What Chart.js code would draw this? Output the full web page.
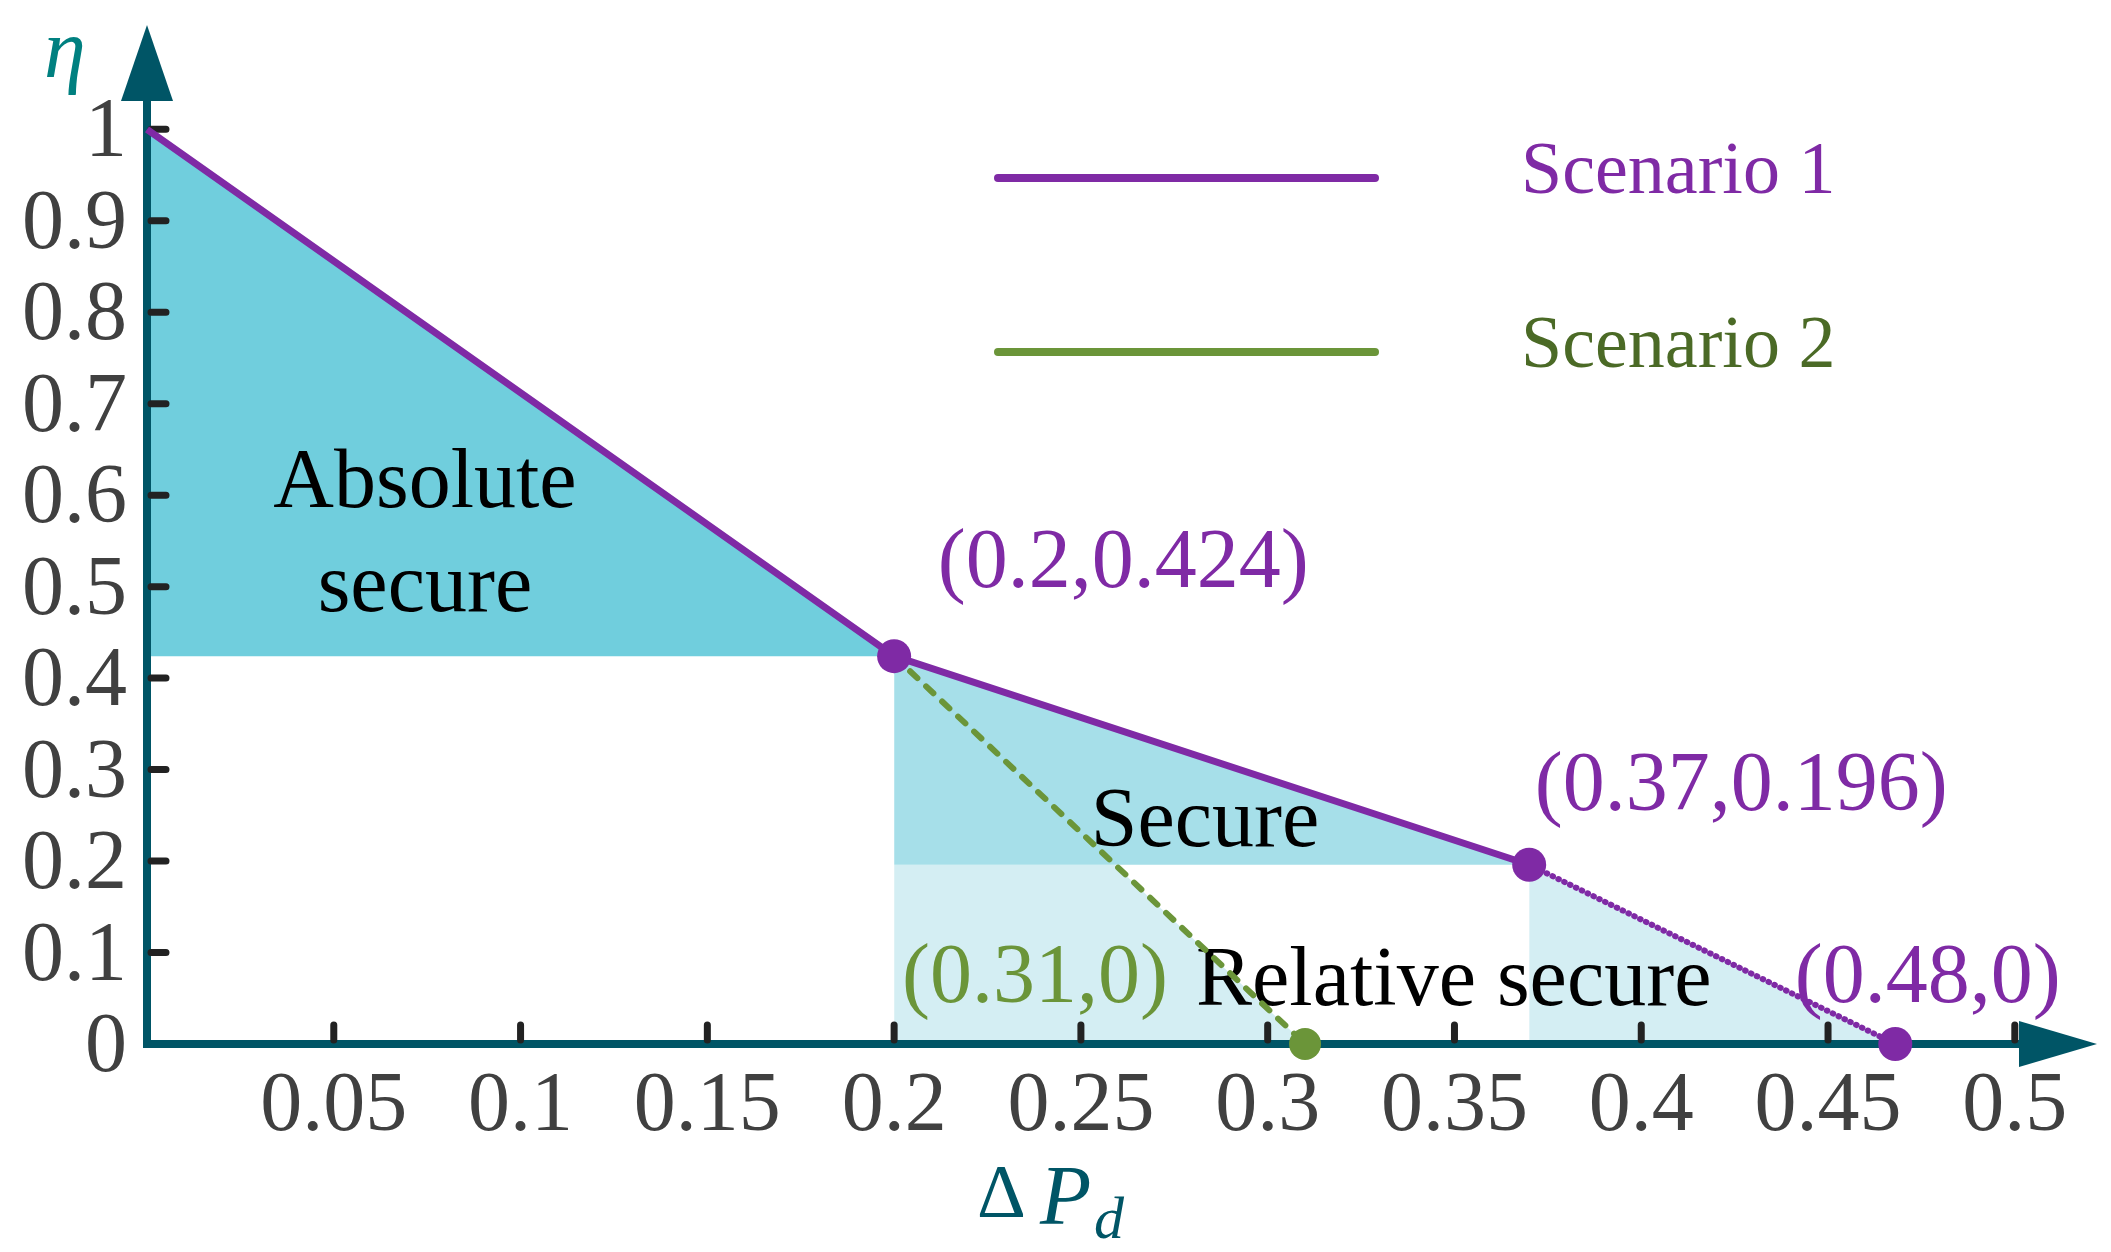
<!DOCTYPE html>
<html>
<head>
<meta charset="utf-8">
<script src="https://cdn.jsdelivr.net/npm/chart.js@4.4.1/dist/chart.umd.min.js"></script>
<style>
  html, body { margin: 0; padding: 0; background: #ffffff; }
  #wrap { width: 2111px; height: 1252px; }
</style>
</head>
<body>
<div id="wrap"><canvas id="chartEta" width="2111" height="1252"></canvas></div>
<script>
// =============================================
// η vs ΔPd — security zones, scenario 1 / 2
// =============================================

// ---- ticks ----
var xTicks = [0.05, 0.1, 0.15, 0.2, 0.25, 0.3, 0.35, 0.4, 0.45, 0.5];
var xTickLabels = ['0.05', '0.1', '0.15', '0.2', '0.25', '0.3', '0.35', '0.4', '0.45', '0.5'];
var yTicks = [0, 0.1, 0.2, 0.3, 0.4, 0.5, 0.6, 0.7, 0.8, 0.9, 1];
var yTickLabels = ['0', '0.1', '0.2', '0.3', '0.4', '0.5', '0.6', '0.7', '0.8', '0.9', '1'];

// ---- scenario 1 ----
var s1SolidX = [0, 0.2, 0.37];
var s1SolidY = [1, 0.424, 0.196];
var s1DotX = [0.37, 0.468];
var s1DotY = [0.196, 0];
var s1KeyX = [0.2, 0.37, 0.468];
var s1KeyY = [0.424, 0.196, 0];

// ---- scenario 2 ----
var s2X = [0.2, 0.31];
var s2Y = [0.424, 0];
var s2KeyX = [0.31];
var s2KeyY = [0];

// ---- zones ----
var absX = [0, 0.2];
var absY = [1, 0.424];
var absFloor = 0.424;
var secX = [0.2, 0.37];
var secY = [0.424, 0.196];
var secFloor = 0.196;
var relAX = [0.2, 0.259, 0.31];
var relAY = [0.196, 0.196, 0];
var relBX = [0.37, 0.468];
var relBY = [0.196, 0];

// ---- colours ----
var PURPLE = '#7f2aa5';
var GREEN = '#6b9539';
var GREEN_TXT = '#4b6a26';
var AXIS = '#005566';
var SERIF = "'Liberation Serif', serif";

function pts(xs, ys) {
  return xs.map(function(x, i) { return { x: x, y: ys[i] }; });
}

function zona(xs, ys, floor, color) {
  return {
    data: pts(xs, ys),
    showLine: true,
    borderWidth: 0,
    pointRadius: 0,
    backgroundColor: color,
    fill: { value: floor },
    clip: false
  };
}

// sin relleno extra alrededor de los ejes
function sinPadding(s) {
  s.paddingTop = 0;
  s.paddingBottom = 0;
  s.paddingLeft = 0;
  s.paddingRight = 0;
}

// ——————————————————————————————————————————
// Plugin: ejes con flechas, ticks y textos
// ——————————————————————————————————————————
var ejesPlugin = {
  id: 'ejes',
  beforeDatasetsDraw: function(chart) {
    var ctx = chart.ctx;
    var ca = chart.chartArea;
    var xs = chart.scales.x, ys = chart.scales.y;
    var ox = xs.getPixelForValue(0), oy = ys.getPixelForValue(0);

    ctx.save();
    // lineas de ejes
    ctx.strokeStyle = AXIS;
    ctx.lineWidth = 8;
    ctx.lineCap = 'butt';
    ctx.beginPath();
    ctx.moveTo(ox, oy + 4);
    ctx.lineTo(ox, ca.top + 74);
    ctx.moveTo(ox - 4, oy);
    ctx.lineTo(ca.right - 76, oy);
    ctx.stroke();

    // flechas
    ctx.fillStyle = AXIS;
    ctx.beginPath();
    ctx.moveTo(ox, ca.top);
    ctx.lineTo(ox - 26, ca.top + 76);
    ctx.lineTo(ox + 26, ca.top + 76);
    ctx.closePath();
    ctx.fill();
    ctx.beginPath();
    ctx.moveTo(ca.right, oy);
    ctx.lineTo(ca.right - 78, oy - 23);
    ctx.lineTo(ca.right - 78, oy + 23);
    ctx.closePath();
    ctx.fill();

    // ticks hacia dentro
    ctx.strokeStyle = '#222222';
    ctx.lineWidth = 7;
    ctx.lineCap = 'round';
    ctx.beginPath();
    xTicks.forEach(function(v) {
      var px = xs.getPixelForValue(v);
      ctx.moveTo(px, oy - 4);
      ctx.lineTo(px, oy - 19);
    });
    yTicks.forEach(function(v) {
      if (v === 0) return;
      var py = ys.getPixelForValue(v);
      ctx.moveTo(ox + 4, py);
      ctx.lineTo(ox + 19, py);
    });
    ctx.stroke();

    // textos de zonas y coordenadas
    var notas = chart.options.plugins.ejes.notas;
    ctx.textBaseline = 'middle';
    notas.forEach(function(n) {
      ctx.font = n.size + 'px ' + SERIF;
      ctx.fillStyle = n.color;
      ctx.textAlign = n.align;
      ctx.fillText(n.text, xs.getPixelForValue(n.x), ys.getPixelForValue(n.y));
    });

    // titulos de ejes
    ctx.textAlign = 'left';
    ctx.textBaseline = 'alphabetic';
    ctx.fillStyle = '#008080';
    ctx.font = 'italic 84px ' + SERIF;
    ctx.fillText('η', 44, 77);

    ctx.fillStyle = AXIS;
    ctx.font = '76px ' + SERIF;
    ctx.fillText('Δ', 977, 1217);
    ctx.font = 'italic 84px ' + SERIF;
    ctx.fillText('P', 1040, 1224);
    ctx.font = 'italic 60px ' + SERIF;
    ctx.fillText('d', 1094, 1238);
    ctx.restore();
  },
  afterDraw: function(chart) {
    // leyenda
    var ctx = chart.ctx;
    var items = chart.options.plugins.ejes.leyenda;
    ctx.save();
    items.forEach(function(it) {
      ctx.strokeStyle = it.line;
      ctx.lineWidth = 8;
      ctx.lineCap = 'round';
      ctx.beginPath();
      ctx.moveTo(998, it.y);
      ctx.lineTo(1375, it.y);
      ctx.stroke();
      ctx.font = '74px ' + SERIF;
      ctx.fillStyle = it.text;
      ctx.textAlign = 'left';
      ctx.textBaseline = 'middle';
      ctx.fillText(it.label, 1521, it.y - 4);
    });
    ctx.restore();
  }
};

var ctx = document.getElementById('chartEta');

new Chart(ctx, {
  type: 'scatter',
  data: {
    datasets: [
      // marcadores (arriba de todo)
      {
        label: 'Scenario 1',
        data: pts(s1KeyX, s1KeyY),
        pointRadius: 17,
        pointBackgroundColor: PURPLE,
        pointBorderWidth: 0,
        showLine: false,
        clip: false
      },
      {
        label: 'Scenario 2',
        data: pts(s2KeyX, s2KeyY),
        pointRadius: 16,
        pointBackgroundColor: GREEN,
        pointBorderWidth: 0,
        showLine: false,
        clip: false
      },
      // lineas
      {
        data: pts(s1SolidX, s1SolidY),
        showLine: true,
        borderColor: PURPLE,
        borderWidth: 7,
        pointRadius: 0,
        fill: false,
        clip: false
      },
      {
        data: pts(s1DotX, s1DotY),
        showLine: true,
        borderColor: PURPLE,
        borderWidth: 6,
        borderDash: [0.5, 6],
        borderCapStyle: 'round',
        pointRadius: 0,
        fill: false,
        clip: false
      },
      {
        data: pts(s2X, s2Y),
        showLine: true,
        borderColor: GREEN,
        borderWidth: 6,
        borderDash: [10, 12],
        borderCapStyle: 'round',
        pointRadius: 0,
        fill: false,
        clip: false
      },
      // zonas
      zona(absX, absY, absFloor, '#70cedd'),
      zona(secX, secY, secFloor, '#a6dfe9'),
      zona(relAX, relAY, 0, '#d4eef3'),
      zona(relBX, relBY, 0, '#d4eef3')
    ]
  },
  options: {
    responsive: false,
    animation: false,
    devicePixelRatio: 1,
    layout: {
      padding: { top: 25, right: 14, left: 0, bottom: 0 },
      autoPadding: false
    },
    plugins: {
      legend: { display: false },
      tooltip: { enabled: false },
      filler: { drawTime: 'beforeDatasetsDraw' },
      ejes: {
        notas: [
          { text: '(0.2,0.424)', x: 0.2117, y: 0.5235, color: PURPLE, align: 'left', size: 84 },
          { text: '(0.37,0.196)', x: 0.3715, y: 0.2798, color: PURPLE, align: 'left', size: 84 },
          { text: '(0.48,0)', x: 0.4411, y: 0.0699, color: PURPLE, align: 'left', size: 84 },
          { text: '(0.31,0)', x: 0.2021, y: 0.0699, color: GREEN, align: 'left', size: 84 },
          { text: 'Absolute', x: 0.0744, y: 0.611, color: '#000000', align: 'center', size: 84 },
          { text: 'secure', x: 0.0744, y: 0.498, color: '#000000', align: 'center', size: 84 },
          { text: 'Secure', x: 0.2832, y: 0.2404, color: '#000000', align: 'center', size: 84 },
          { text: 'Relative secure', x: 0.3498, y: 0.0667, color: '#000000', align: 'center', size: 84 }
        ],
        leyenda: [
          { label: 'Scenario 1', y: 178, line: PURPLE, text: PURPLE },
          { label: 'Scenario 2', y: 352, line: GREEN, text: GREEN_TXT }
        ]
      }
    },
    scales: {
      x: {
        type: 'linear',
        min: 0,
        max: 0.522,
        grid: { display: false, drawTicks: false },
        border: { display: false },
        afterBuildTicks: function(s) { s.ticks = xTicks.map(function(v) { return { value: v }; }); },
        afterFit: function(s) { s.height = 208; sinPadding(s); },
        ticks: {
          autoSkip: false,
          maxRotation: 0,
          padding: 14,
          color: '#404040',
          font: { family: SERIF, size: 84 },
          callback: function(v, i) { return xTickLabels[i]; }
        }
      },
      y: {
        type: 'linear',
        min: 0,
        max: 1.114,
        grid: { display: false, drawTicks: false },
        border: { display: false },
        afterBuildTicks: function(s) { s.ticks = yTicks.map(function(v) { return { value: v }; }); },
        afterFit: function(s) { s.width = 147; sinPadding(s); },
        ticks: {
          autoSkip: false,
          padding: 20,
          labelOffset: 5,
          color: '#404040',
          font: { family: SERIF, size: 84 },
          callback: function(v, i) { return yTickLabels[i]; }
        }
      }
    }
  },
  plugins: [ejesPlugin]
});
</script>
</body>
</html>
